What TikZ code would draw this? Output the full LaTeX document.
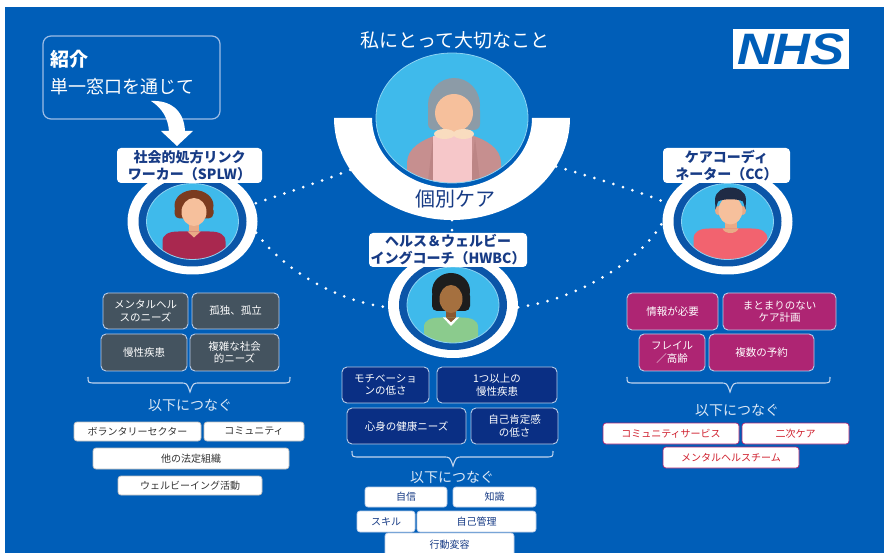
\documentclass[tikz,border=0pt]{standalone}
\usepackage{fontspec}
\usepackage{graphicx}
\setmainfont{Noto Sans CJK JP}
\newfontfamily\logofont{Liberation Sans}
\usetikzlibrary{shapes.geometric}

% palette
\definecolor{nhsblue}{HTML}{005EB8}
\definecolor{ringblue}{HTML}{0B55A8}
\definecolor{photoblue}{HTML}{3FBAEB}
\definecolor{photorim}{HTML}{8ED3F2}
\definecolor{labelnavy}{HTML}{173B85}
\definecolor{greyfill}{HTML}{44535F}
\definecolor{navyfill}{HTML}{0A2F84}
\definecolor{pinkfill}{HTML}{AE2573}
\definecolor{boxrim}{HTML}{B9CCE8}
\definecolor{bracecol}{HTML}{C3D5EE}
\definecolor{softtext}{HTML}{DCE8F6}
\definecolor{redtext}{HTML}{D0202E}
\definecolor{introrim}{HTML}{9DBDE6}
% figures
\definecolor{skin}{HTML}{F6C09C}
\definecolor{skinshade}{HTML}{E9AA86}
\definecolor{hairbrown}{HTML}{7B3B1F}
\definecolor{crimson}{HTML}{A9284F}
\definecolor{hairblack}{HTML}{1D1D1D}
\definecolor{brownskin}{HTML}{A5703F}
\definecolor{brownshade}{HTML}{8A5830}
\definecolor{shirtgreen}{HTML}{8BCB8D}
\definecolor{hairnavy}{HTML}{1F2B45}
\definecolor{coral}{HTML}{F2636F}
\definecolor{greyhair}{HTML}{8C9BA7}
\definecolor{rose}{HTML}{C68F8F}
\definecolor{roseshade}{HTML}{BC8585}
\definecolor{blouse}{HTML}{F6C7C9}
\definecolor{cream}{HTML}{F9DCBF}

% curly brace under a group of need boxes: left x, right x, tip x, line y
\newcommand\needbrace[4]{%
  \draw[bracepath] (#1,#4-6) .. controls (#1,#4) .. (#1+8,#4) -- (#3-10,#4)
    .. controls (#3-3,#4) .. (#3,#4+9) .. controls (#3+3,#4) .. (#3+10,#4)
    -- (#2-8,#4) .. controls (#2,#4) .. (#2,#4-6);}

\begin{document}
\begin{tikzpicture}[x=1pt,y=-1pt,
  dotline/.style={white, line width=3pt, line cap=round, dash pattern=on 0pt off 10pt},
  rolelabel/.style={fill=white, rounded corners=4pt, text=labelnavy,
    font=\bfseries\fontsize{14}{17}\selectfont, align=center, inner sep=0pt},
  rolering/.style={ellipse, fill=white, minimum width=130pt, minimum height=106pt, inner sep=0pt},
  needbox/.style={rounded corners=5pt, draw=boxrim, line width=0.9pt, text=white,
    align=center, inner sep=0pt, font=\fontsize{10.5}{12.5}\selectfont},
  greyneed/.style={needbox, fill=greyfill},
  navyneed/.style={needbox, fill=navyfill},
  pinkneed/.style={needbox, fill=pinkfill},
  linkbox/.style={fill=white, rounded corners=3pt, inner sep=0pt, line width=0.7pt,
    font=\fontsize{10}{12}\selectfont},
  linkgrey/.style={linkbox, draw=black!25, text=black!80},
  linknavy/.style={linkbox, draw=boxrim, text=labelnavy},
  linkred/.style={linkbox, draw=pinkfill, text=redtext},
  linkhead/.style={text=softtext, font=\fontsize{14}{14}\selectfont},
  bracepath/.style={draw=bracecol, line width=1.1pt}]

\useasboundingbox (0,0) rectangle (884,553);
\fill[white] (0,0) rectangle (884,553);
\fill[nhsblue] (5,7) rectangle (884,553);

% ---------- anchors for the central ring and the three role rings ----------
\node[ellipse, minimum width=236pt, minimum height=204pt, inner sep=0pt] (carering) at (452,118) {};
\node[ellipse, minimum width=130pt, minimum height=106pt, inner sep=0pt] (splwpos) at (192.5,221.5) {};
\node[ellipse, minimum width=130pt, minimum height=106pt, inner sep=0pt] (hwbcpos) at (453,305) {};
\node[ellipse, minimum width=130pt, minimum height=106pt, inner sep=0pt] (ccpos) at (727.5,221.5) {};

% ---------- dotted links ----------
\draw[dotline] (carering.207) .. controls (320,182) and (285,193) .. (splwpos.16);
\draw[dotline] (splwpos.-10) .. controls (285,272) and (340,302) .. (hwbcpos.182);
\draw[dotline] (hwbcpos.-2) .. controls (575,300) and (640,262) .. (ccpos.181);
\draw[dotline] (carering.-25) .. controls (595,178) and (635,190) .. (ccpos.163);

% ---------- intro box and arrow ----------
\node[draw=introrim, rounded corners=8pt, line width=1.2pt, minimum width=177pt,
      minimum height=83pt, inner sep=0pt] (intro) at (131.5,77.5) {};
\node[anchor=west, text=white, font=\bfseries\fontsize{19}{19}\selectfont] (introtitle) at (47,59) {紹介};
\node[anchor=west, text=white, font=\fontsize{18}{18}\selectfont] (introsub) at (47,87) {単一窓口を通じて};
\fill[white] (151,101) .. controls (170,100) and (184,110) .. (185,131) -- (193,131)
  -- (177,146) -- (161,131) -- (169,131) .. controls (168,118) and (162,108) .. (151,101) -- cycle;

% ---------- title and NHS logo ----------
\node[text=white, font=\fontsize{19}{19}\selectfont] (title) at (455,40) {私にとって大切なこと};
\node[fill=white, minimum width=116pt, minimum height=40pt, inner sep=0pt] (nhslogo) at (791,49) {};
\node[text=nhsblue, font=\logofont\bfseries\itshape\fontsize{44}{44}\selectfont, inner sep=0pt]
  (nhstext) at (nhslogo.center) {\scalebox{1.16}[1]{NHS}};

% ---------- central person ----------
\begin{scope}
  \clip (carering.center) ellipse [x radius=76, y radius=65];
  \fill[photoblue] (carering.center) ellipse [x radius=76, y radius=65];
  \begin{scope}[shift={(carering.center)}]
    \fill[greyhair] (2,-13) ellipse [x radius=26, y radius=27];
    \fill[greyhair, rounded corners=6pt] (-24,-13) rectangle (28,12);
    \fill[skinshade] (-5,8) rectangle (9,22);
    \fill[rose] (-45,80) -- (-45,45) .. controls (-45,30) and (-30,22) .. (-15,17) -- (19,17)
      .. controls (34,22) and (49,30) .. (49,45) -- (49,80) -- cycle;
    \fill[roseshade] (-26,80) -- (-19,20) -- (-12,80) -- cycle;
    \fill[roseshade] (16,80) -- (23,20) -- (30,80) -- cycle;
    \fill[blouse] (-19,18) rectangle (20,80);
    \fill[skin] (2,-5) ellipse [x radius=19, y radius=19];
    \fill[cream] (-7.5,16) ellipse [x radius=10.5, y radius=5];
    \fill[cream] (11.5,16) ellipse [x radius=10.5, y radius=5];
  \end{scope}
\end{scope}
\draw[photorim, line width=0.8pt] (carering.center) ellipse [x radius=76, y radius=65];
\fill[white] (334,118) arc[start angle=180, end angle=0, x radius=118, y radius=102]
  -- (532,118) arc[start angle=0, end angle=180, x radius=80, y radius=70] -- cycle;
\node[text=labelnavy, font=\fontsize{20}{20}\selectfont] (caretext) at (455,199) {個別ケア};
\draw[dotline] (carering.south) -- ++(0,12);

% ---------- SPLW ----------
\node[rolering] (splwring) at (splwpos) {};
\fill[ringblue] (splwring.center) ellipse [x radius=54, y radius=45];
\begin{scope}
  \clip (splwring.center) ellipse [x radius=46, y radius=38];
  \fill[photoblue] (splwring.center) ellipse [x radius=46, y radius=38];
  \begin{scope}[shift={(splwring.center)}]
    \fill[hairbrown] (1.5,-16) ellipse [x radius=19.5, y radius=15.5];
    \fill[hairbrown, rounded corners=5pt] (-18,-16) rectangle (21,-3);
    \fill[skinshade] (-3.5,-2) rectangle (6.5,13);
    \fill[skin] (1.5,-9.5) ellipse [x radius=12.5, y radius=14];
    \fill[crimson] (-30,45) -- (-30,20) .. controls (-30,13) and (-24,10) .. (-14,10) -- (17,10)
      .. controls (27,10) and (33,13) .. (33,20) -- (33,45) -- cycle;
    \fill[skinshade] (-5,10) -- (8,10) -- (1.5,16) -- cycle;
  \end{scope}
\end{scope}
\draw[photorim, line width=0.8pt] (splwring.center) ellipse [x radius=46, y radius=38];
\node[rolelabel, minimum width=145pt, minimum height=35pt] (splwlabel) at (189.5,165.5)
  {社会的処方リンク\\ワーカー（SPLW）};

% ---------- HWBC ----------
\node[rolering] (hwbcring) at (hwbcpos) {};
\fill[ringblue] (hwbcring.center) ellipse [x radius=54, y radius=45];
\begin{scope}
  \clip (hwbcring.center) ellipse [x radius=46, y radius=38];
  \fill[photoblue] (hwbcring.center) ellipse [x radius=46, y radius=38];
  \begin{scope}[shift={(hwbcring.center)}]
    \fill[hairblack] (-2,-14) ellipse [x radius=19, y radius=18];
    \fill[hairblack, rounded corners=5pt] (-21,-14) rectangle (17,6);
    \fill[brownshade] (-7,0) rectangle (3,15);
    \fill[brownskin] (-2,-6) ellipse [x radius=11.5, y radius=14];
    \fill[shirtgreen] (-29,45) -- (-29,22) .. controls (-29,15) and (-22,12.5) .. (-12,12.5) -- (8,12.5)
      .. controls (18,12.5) and (25,15) .. (25,22) -- (25,45) -- cycle;
    \fill[white] (-10,12.5) -- (-2,21) -- (6,12.5) -- (3,12.5) -- (-2,17) -- (-7,12.5) -- cycle;
    \fill[brownshade] (-7,12.5) -- (3,12.5) -- (-2,17) -- cycle;
  \end{scope}
\end{scope}
\draw[photorim, line width=0.8pt] (hwbcring.center) ellipse [x radius=46, y radius=38];
\node[rolelabel, minimum width=158pt, minimum height=34pt] (hwbclabel) at (448,250)
  {ヘルス＆ウェルビー\\イングコーチ（HWBC）};

% ---------- CC ----------
\node[rolering] (ccring) at (ccpos) {};
\fill[ringblue] (ccring.center) ellipse [x radius=54, y radius=45];
\begin{scope}
  \clip (ccring.center) ellipse [x radius=46, y radius=38];
  \fill[photoblue] (ccring.center) ellipse [x radius=46, y radius=38];
  \begin{scope}[shift={(ccring.center)}]
    \fill[skinshade] (-9.5,-11) ellipse [x radius=3, y radius=4.5];
    \fill[skinshade] (15.5,-11) ellipse [x radius=3, y radius=4.5];
    \fill[skinshade] (-3,0) rectangle (9,13);
    \fill[skin] (3,-11) ellipse [x radius=12, y radius=14];
    \fill[hairnavy] (-12,-12) -- (-12.5,-22) .. controls (-12,-38) and (18,-38) .. (18.5,-22)
      -- (18,-12) -- (15.5,-20) .. controls (10,-23) and (-4,-23) .. (-9.5,-20) -- cycle;
    \fill[coral] (-34,45) -- (-34,18) .. controls (-34,10) and (-28,7) .. (-18,7) -- (24,7)
      .. controls (34,7) and (40,10) .. (40,18) -- (40,45) -- cycle;
    \fill[skinshade] (-5,7) .. controls (-3,13) and (9,13) .. (11,7) -- cycle;
  \end{scope}
\end{scope}
\draw[photorim, line width=0.8pt] (ccring.center) ellipse [x radius=46, y radius=38];
\node[rolelabel, minimum width=127pt, minimum height=35pt] (cclabel) at (726.5,165.5)
  {ケアコーディ\\ネーター（CC）};

% ---------- SPLW needs and links ----------
\node[greyneed, minimum width=85pt, minimum height=36pt] (sn1) at (145.5,311) {メンタルヘル\\スのニーズ};
\node[greyneed, minimum width=87pt, minimum height=36pt] (sn2) at (235.5,311) {孤独、孤立};
\node[greyneed, minimum width=86pt, minimum height=37pt] (sn3) at (144,352.5) {慢性疾患};
\node[greyneed, minimum width=89pt, minimum height=37pt] (sn4) at (234.5,352.5) {複雑な社会\\的ニーズ};
\needbrace{88}{290}{190}{383}
\node[linkhead] (shead) at (190,405) {以下につなぐ};
\node[linkgrey, minimum width=127pt, minimum height=19pt] (sl1) at (137.5,431.5) {ボランタリーセクター};
\node[linkgrey, minimum width=100pt, minimum height=19pt] (sl2) at (254,431.5) {コミュニティ};
\node[linkgrey, minimum width=196pt, minimum height=21pt] (sl3) at (191,458.5) {他の法定組織};
\node[linkgrey, minimum width=144pt, minimum height=19pt] (sl4) at (190,485.5) {ウェルビーイング活動};

% ---------- HWBC needs and links ----------
\node[navyneed, minimum width=87pt, minimum height=36pt] (hn1) at (385.5,385) {モチベーショ\\ンの低さ};
\node[navyneed, minimum width=120pt, minimum height=36pt] (hn2) at (497,385) {1つ以上の\\慢性疾患};
\node[navyneed, minimum width=119pt, minimum height=36pt] (hn3) at (406.5,426) {心身の健康ニーズ};
\node[navyneed, minimum width=87pt, minimum height=36pt] (hn4) at (514.5,426) {自己肯定感\\の低さ};
\needbrace{352}{553}{453}{457}
\node[linkhead] (hhead) at (452,477) {以下につなぐ};
\node[linknavy, minimum width=82pt, minimum height=20pt] (hl1) at (406,497) {自信};
\node[linknavy, minimum width=83pt, minimum height=20pt] (hl2) at (494.5,497) {知識};
\node[linknavy, minimum width=58pt, minimum height=21pt] (hl3) at (386,521.5) {スキル};
\node[linknavy, minimum width=119pt, minimum height=21pt] (hl4) at (476.5,521.5) {自己管理};
\node[linknavy, minimum width=129pt, minimum height=23pt] (hl5) at (449.5,544.5) {行動変容};

% ---------- CC needs and links ----------
\node[pinkneed, minimum width=91pt, minimum height=37pt] (cn1) at (672.5,311.5) {情報が必要};
\node[pinkneed, minimum width=113pt, minimum height=37pt] (cn2) at (779.5,311.5) {まとまりのない\\ケア計画};
\node[pinkneed, minimum width=66pt, minimum height=37pt] (cn3) at (672,352.5) {フレイル\\／高齢};
\node[pinkneed, minimum width=105pt, minimum height=37pt] (cn4) at (761.5,352.5) {複数の予約};
\needbrace{627}{830}{730}{383}
\node[linkhead] (chead) at (737,410) {以下につなぐ};
\node[linkred, minimum width=136pt, minimum height=21pt] (cl1) at (671,433.5) {コミュニティサービス};
\node[linkred, minimum width=107pt, minimum height=21pt] (cl2) at (795.5,433.5) {二次ケア};
\node[linkred, minimum width=136pt, minimum height=21pt] (cl3) at (731,457.5) {メンタルヘルスチーム};

\end{tikzpicture}
\end{document}
